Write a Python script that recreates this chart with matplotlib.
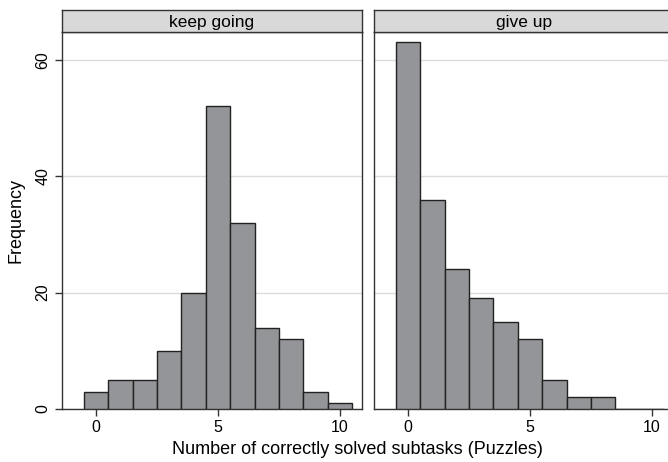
import matplotlib
matplotlib.use("Agg")
import matplotlib.pyplot as plt

plt.rcParams["font.family"] = ["Liberation Sans", "DejaVu Sans"]

bins = [0, 1, 2, 3, 4, 5, 6, 7, 8, 9, 10]
keep_going = [3, 5, 5, 10, 20, 52, 32, 14, 12, 3, 1]
give_up = [63, 36, 24, 19, 15, 12, 5, 2, 2, 0, 0]
panels = ["keep going", "give up"]
yticks = [0, 20, 40, 60]
xticks = [0, 5, 10]

fig = plt.figure(figsize=(6.68, 4.62), dpi=100)
positions = [[0.0928, 0.1147, 0.449, 0.816], [0.5599, 0.1147, 0.449, 0.816]]
hdr_h = 0.0476

for i, (title, vals) in enumerate(zip(panels, [keep_going, give_up])):
    ax = fig.add_axes(positions[i])
    ax.bar(bins, vals, width=1.0, color="#939598", edgecolor="#222222", linewidth=1.0, zorder=3)
    ax.set_xlim(-1.4, 10.9)
    ax.set_ylim(0, 64.8)
    ax.set_yticks(yticks)
    ax.set_xticks(xticks)
    ax.grid(axis="y", color="#dcdcdc", linewidth=1.0, zorder=0)
    for s in ax.spines.values():
        s.set_color("#333333")
        s.set_linewidth(1.0)
    ax.tick_params(axis="both", labelsize=11.5, color="#333333", length=5, width=1)
    ax.tick_params(axis="x", pad=3)
    if i == 0:
        ax.set_yticklabels([str(t) for t in yticks], rotation=90, va="center")
        ax.set_ylabel("Frequency", fontsize=13, labelpad=8)
    else:
        ax.tick_params(axis="y", left=False, labelleft=False)
    # panel header strip
    p = positions[i]
    hax = fig.add_axes([p[0], p[1] + p[3], p[2], hdr_h])
    hax.set_xticks([])
    hax.set_yticks([])
    hax.set_facecolor("#d9d9d9")
    for s in hax.spines.values():
        s.set_color("#333333")
        s.set_linewidth(1.0)
    hax.text(0.5, 0.45, title, ha="center", va="center", fontsize=12.5, transform=hax.transAxes)

fig.text(0.535, 0.008, "Number of correctly solved subtasks (Puzzles)", ha="center", va="bottom", fontsize=13)

fig.savefig("out.png", dpi=100)
